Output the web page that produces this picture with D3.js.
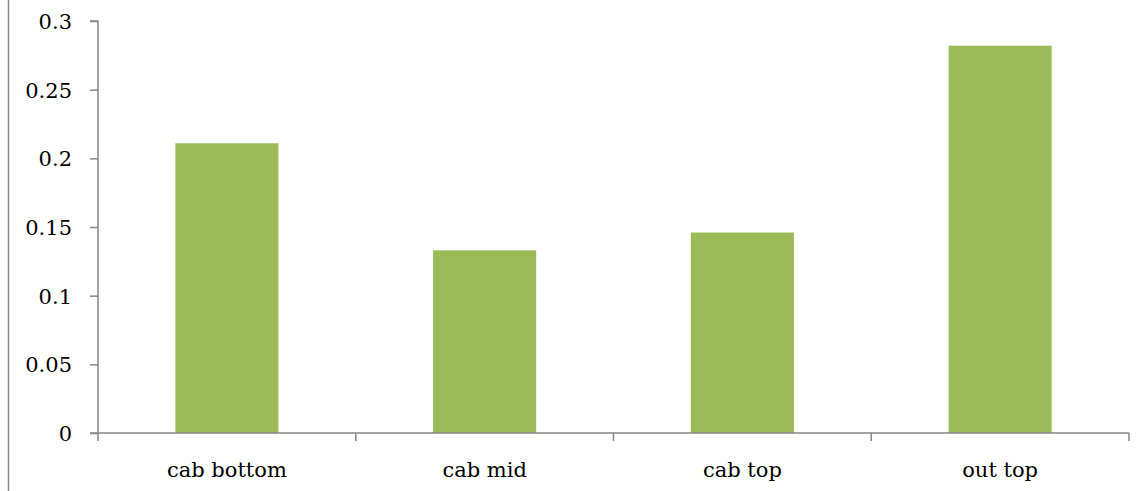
<!DOCTYPE html>
<html><head><meta charset="utf-8">
<script src="https://cdn.jsdelivr.net/npm/d3@7"></script>
<style>body{margin:0;background:#fff}svg{display:block}</style>
</head><body>
<svg id="c" width="1145" height="491"></svg>
<script>
const categories = ["cab bottom", "cab mid", "cab top", "out top"];
const values = [0.211, 0.133, 0.146, 0.282];
const yTicks = [0, 0.05, 0.1, 0.15, 0.2, 0.25, 0.3];
const yTickLabels = ["0", "0.05", "0.1", "0.15", "0.2", "0.25", "0.3"];

const svg = d3.select("#c");
const pLeft = 98, pRight = 1129, pTop = 21, pBottom = 433;
const axisColor = "#868686";
const font = "'DejaVu Serif', 'Liberation Serif', serif";

// frame line on the left
svg.append("line").attr("x1", 8.5).attr("x2", 8.5).attr("y1", 0).attr("y2", 491)
  .attr("stroke", axisColor).attr("stroke-width", 1.5);

const x = d3.scaleBand().domain(categories).range([pLeft, pRight]).paddingInner(0.6).paddingOuter(0.3);
const y = d3.scaleLinear().domain([0, 0.3]).range([pBottom, pTop]);

svg.selectAll("rect.bar").data(values).enter().append("rect")
  .attr("class", "bar")
  .attr("x", (d, i) => x(categories[i]))
  .attr("width", x.bandwidth())
  .attr("y", d => y(d))
  .attr("height", d => y(0) - y(d))
  .attr("fill", "#9BBB59");

// y axis
const yAxis = d3.axisLeft(y).tickValues(yTicks).tickFormat((d, i) => yTickLabels[i]).tickSize(8).tickPadding(18);
const gy = svg.append("g").attr("transform", `translate(${pLeft},0)`).call(yAxis);
gy.attr("font-family", null).attr("font-size", null);
gy.select(".domain").attr("stroke", axisColor).attr("stroke-width", 1.5).attr("d", `M-8,${pTop}H0V${pBottom}`);
gy.selectAll(".tick line").attr("stroke", axisColor).attr("stroke-width", 1.5);
gy.selectAll(".tick text").style("font-family", font).style("font-size", "21px").attr("fill", "#000").attr("dy", "0.36em");

// x axis
const gx = svg.append("g");
gx.append("line").attr("x1", pLeft - 8).attr("x2", pRight).attr("y1", pBottom).attr("y2", pBottom)
  .attr("stroke", axisColor).attr("stroke-width", 1.5);
const step = x.step();
const bounds = d3.range(categories.length + 1).map(k => pLeft + k * step);
gx.selectAll("line.t").data(bounds).enter().append("line").attr("class", "t")
  .attr("x1", d => d).attr("x2", d => d).attr("y1", pBottom).attr("y2", pBottom + 8)
  .attr("stroke", axisColor).attr("stroke-width", 1.5);
gx.selectAll("text").data(categories).enter().append("text")
  .attr("x", d => x(d) + x.bandwidth() / 2).attr("y", 477)
  .attr("text-anchor", "middle").style("font-family", font).style("font-size", "21px").attr("fill", "#000")
  .text(d => d);
</script>
</body></html>
